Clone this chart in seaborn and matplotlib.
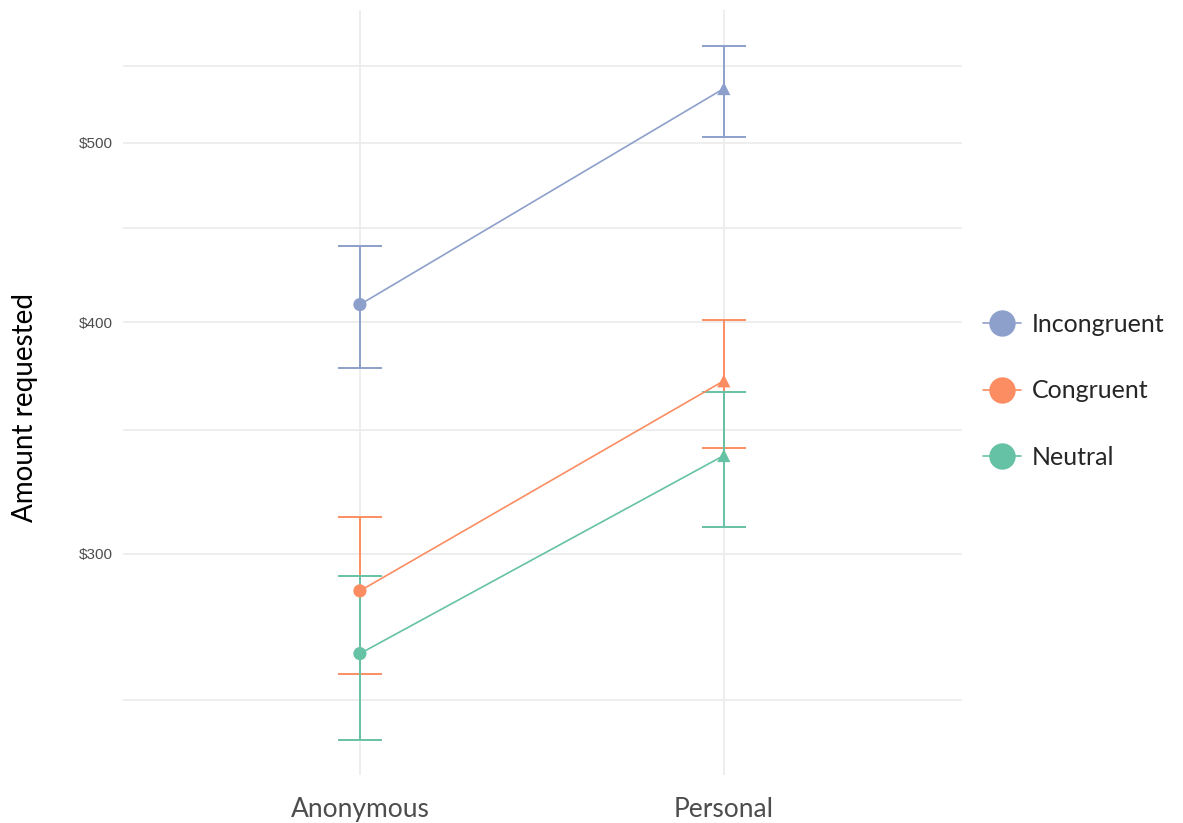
import matplotlib
matplotlib.use("Agg")
import matplotlib.pyplot as plt
from matplotlib.lines import Line2D
import seaborn as sns
import pandas as pd

# Mean amount requested per group and condition, with interval bounds
groups = ["Incongruent", "Congruent", "Neutral"]
conditions = ["Anonymous", "Personal"]
means = {
    "Incongruent": [409, 535],
    "Congruent": [286.5, 372],
    "Neutral": [265, 339],
}
lower = {
    "Incongruent": [378, 504],
    "Congruent": [258.5, 342],
    "Neutral": [238, 310],
}
upper = {
    "Incongruent": [440, 564],
    "Congruent": [314, 401],
    "Neutral": [292, 367],
}
colors = {"Incongruent": "#8DA0CB", "Congruent": "#FC8D62", "Neutral": "#66C2A5"}
major_ticks = [300, 400, 500]
major_labels = ["$300", "$400", "$500"]
minor_ticks = [250, 350, 450, 550]

rows = []
for g in groups:
    for i, c in enumerate(conditions):
        rows.append({"group": g, "condition": c, "mean": means[g][i],
                     "lo": lower[g][i], "hi": upper[g][i]})
df = pd.DataFrame(rows)

sns.set_theme(style="white")
plt.rcParams["font.family"] = ["Lato", "DejaVu Sans"]

fig = plt.figure(figsize=(11.83, 8.23), dpi=100)
ax = fig.add_axes([0.104, 0.058, 0.709, 0.930])

# interval bars
for g in groups:
    sub = df[df.group == g]
    ax.errorbar(sub["condition"], sub["mean"],
                yerr=[sub["mean"] - sub["lo"], sub["hi"] - sub["mean"]],
                fmt="none", ecolor=colors[g], elinewidth=1.4,
                capsize=15.5, capthick=1.4, zorder=2)

sns.lineplot(data=df, x="condition", y="mean", hue="group", hue_order=groups,
             palette=colors, legend=False, linewidth=1.2, ax=ax, zorder=3)
sns.scatterplot(data=df, x="condition", y="mean", hue="group", hue_order=groups,
                palette=colors, style="condition",
                markers={"Anonymous": "o", "Personal": "^"},
                s=90, linewidth=0, legend=False, ax=ax, zorder=4)

ax.set_yscale("log")
ax.set_ylim(227.8, 590)
ax.set_xlim(-0.651, 1.654)
ax.set_yticks(major_ticks)
ax.set_yticklabels(major_labels)
ax.set_yticks(minor_ticks, minor=True)
ax.set_yticklabels([], minor=True)
ax.set_xticks([0, 1])
ax.set_xticklabels(conditions)

ax.grid(True, which="major", axis="both", color="#EBEBEB", linewidth=1.2)
ax.grid(True, which="minor", axis="y", color="#EBEBEB", linewidth=1.2)
ax.set_axisbelow(True)
for s in ax.spines.values():
    s.set_visible(False)
ax.tick_params(axis="both", which="both", length=0)
ax.tick_params(axis="y", pad=7, labelsize=11, labelcolor="#4D4D4D")
ax.tick_params(axis="x", pad=16, labelsize=19, labelcolor="#4D4D4D")
for lab in ax.get_yticklabels():
    lab.set_family(["Liberation Sans", "DejaVu Sans"])

ax.set_xlabel("")
ax.set_ylabel("Amount requested", fontsize=20, color="black")
ax.yaxis.set_label_coords(-0.101, 0.481)

handles = [Line2D([0], [0], color=colors[g], marker="o", markersize=19,
                  linewidth=1.2, markeredgewidth=0) for g in groups]
fig.legend(handles, groups, loc="center left", bbox_to_anchor=(0.812, 0.525),
           frameon=False, fontsize=18, handlelength=1.5, handletextpad=0.45,
           labelspacing=1.75)

fig.savefig("out.png", dpi=100)
